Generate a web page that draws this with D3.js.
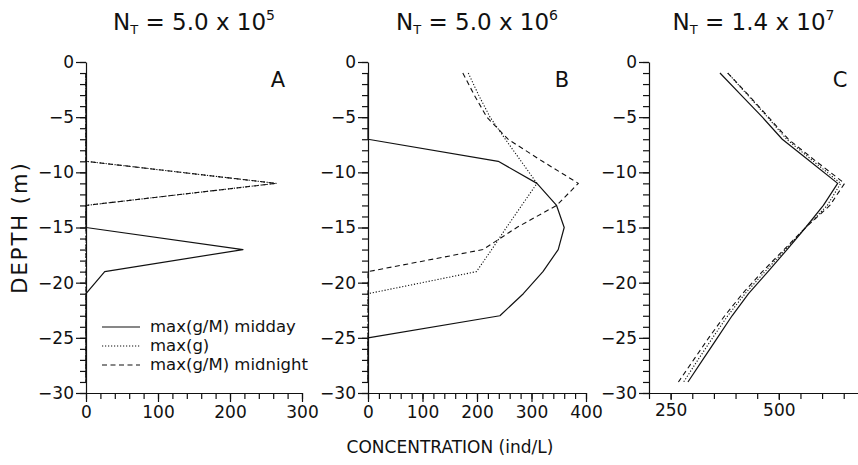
<!DOCTYPE html>
<html>
<head>
<meta charset="utf-8">
<script src="https://cdn.jsdelivr.net/npm/d3@7"></script>
<style>
  html, body { margin: 0; padding: 0; background: #fff; }
  svg { display: block; font-family: "DejaVu Sans", sans-serif; }
</style>
</head>
<body>
<svg id="chart" width="858" height="465"></svg>
<script>
// ---- data (depth in m, concentration in ind/L) ----
const depth = [-1, -3, -5, -7, -9, -11, -13, -15, -17, -19, -21, -23, -25, -27, -29];

const aMidday   = [0, 0, 0, 0, 0, 0, 0, 0, 218, 26, 0, 0, 0, 0, 0];
const aMaxG     = [0, 0, 0, 0, 0, 264, 0, 0, 0, 0, 0, 0, 0, 0, 0];
const aMidnight = [0, 0, 0, 0, 0, 264, 0, 0, 0, 0, 0, 0, 0, 0, 0];

const bMidday   = [0, 0, 0, 0, 239, 310, 346, 360, 349, 321, 285, 242, 0, 0, 0];
const bMaxG     = [184, 203, 224, 252, 281, 310, 282, 254, 227, 199, 0, 0, 0, 0, 0];
const bMidnight = [174, 195, 218, 257, 320, 386, 346, 273, 211, 0, 0, 0, 0, 0, 0];

const cMidday   = [364, 413, 462, 508, 572, 636, 603, 562, 519, 475, 430, 392, 358, 324, 290];
const cMaxG     = [382, 428, 474, 518, 580, 643, 612, 562, 515, 468, 422, 382, 347, 313, 280];
const cMidnight = [382, 430, 476, 522, 586, 652, 618, 562, 512, 462, 416, 375, 338, 303, 268];

const titleMantissa = ["5.0", "5.0", "1.4"];
const titleExponent = ["5", "6", "7"];
const panelLetters = ["A", "B", "C"];
const yMajorTicks = [0, -5, -10, -15, -20, -25, -30];
const xLabelTicksA = [0, 100, 200, 300];
const xLabelTicksB = [0, 100, 200, 300, 400];
const xLabelTicksC = [250, 500];
const legendLabels = ["max(g/M) midday", "max(g)", "max(g/M) midnight"];

// ---- layout ----
const svg = d3.select("#chart");
const ink = "#111";
const y = d3.scaleLinear().domain([0, -30]).range([62, 393]);

const panels = [
  { x: d3.scaleLinear().domain([0, 300]).range([86, 302]),
    series: [aMidday, aMaxG, aMidnight],
    minor: d3.range(0, 301, 20), major: xLabelTicksA },
  { x: d3.scaleLinear().domain([0, 400]).range([368, 586]),
    series: [bMidday, bMaxG, bMidnight],
    minor: d3.range(0, 401, 20), major: xLabelTicksB },
  { x: d3.scaleLinear().domain([200, 683]).range([649, 858]),
    series: [cMidday, cMaxG, cMidnight],
    minor: d3.range(200, 681, 50), major: xLabelTicksC }
];

const styles = [
  { dash: null, w: 1.2 },
  { dash: "1.2,1.8", w: 1.1 },
  { dash: "5,3.5", w: 1.1 }
];

panels.forEach((p, i) => {
  const g = svg.append("g");
  const x = p.x;
  const x0 = x.range()[0];

  // y axis: minor ticks
  g.append("g").attr("transform", `translate(${x0},0)`)
    .call(d3.axisLeft(y).tickValues(d3.range(0, -31, -1)).tickSize(6).tickSizeOuter(0).tickFormat(""))
    .call(s => s.selectAll("line,path").attr("stroke", ink).attr("stroke-width", 1.2));
  // y axis: major ticks with labels
  g.append("g").attr("transform", `translate(${x0},0)`)
    .call(d3.axisLeft(y).tickValues(yMajorTicks).tickSize(10).tickSizeOuter(0).tickPadding(2))
    .call(s => s.select("path").remove())
    .call(s => s.selectAll("line").attr("stroke", ink).attr("stroke-width", 1.2))
    .call(s => s.selectAll("text").attr("font-size", 17).attr("fill", ink)
      .attr("font-family", "DejaVu Sans, sans-serif"));

  // x axis: minor ticks
  g.append("g").attr("transform", `translate(0,${y(-30)})`)
    .call(d3.axisBottom(x).tickValues(p.minor).tickSize(6).tickSizeOuter(0).tickFormat(""))
    .call(s => s.selectAll("line,path").attr("stroke", ink).attr("stroke-width", 1.2));
  // x axis: labelled ticks
  g.append("g").attr("transform", `translate(0,${y(-30)})`)
    .call(d3.axisBottom(x).tickValues(p.major).tickSize(i === 2 ? 7 : 9).tickSizeOuter(0).tickPadding(4))
    .call(s => s.select("path").remove())
    .call(s => s.selectAll("line").attr("stroke", ink).attr("stroke-width", 1.2))
    .call(s => s.selectAll("text").attr("font-size", 17).attr("fill", ink)
      .attr("font-family", "DejaVu Sans, sans-serif"));

  // curves
  p.series.forEach((vals, k) => {
    const line = d3.line().x((d, j) => x(d)).y((d, j) => y(depth[j]));
    g.append("path").datum(vals)
      .attr("d", line)
      .attr("fill", "none")
      .attr("stroke", ink)
      .attr("stroke-width", styles[k].w)
      .attr("stroke-dasharray", styles[k].dash)
      .attr("stroke-linejoin", "round");
  });

  // panel letter
  g.append("text")
    .attr("x", x.range()[1] - (i === 2 ? 18 : 24))
    .attr("y", 87)
    .attr("text-anchor", "middle")
    .attr("font-size", 21)
    .attr("fill", ink)
    .text(panelLetters[i]);

  // title
  const cx = (x.range()[0] + x.range()[1]) / 2;
  const t = svg.append("text")
    .attr("x", cx).attr("y", 30)
    .attr("text-anchor", "middle")
    .attr("font-size", 23)
    .attr("fill", ink);
  t.append("tspan").text("N");
  t.append("tspan").attr("font-size", 13).attr("dy", 4).text("T");
  t.append("tspan").attr("dy", -4).text(" = " + titleMantissa[i] + " x 10");
  t.append("tspan").attr("font-size", 14).attr("dy", -10).text(titleExponent[i]);
});

// legend (panel A)
const legendY = [327, 346, 365];
legendLabels.forEach((lab, k) => {
  svg.append("line")
    .attr("x1", 102).attr("x2", 140)
    .attr("y1", legendY[k]).attr("y2", legendY[k])
    .attr("stroke", ink)
    .attr("stroke-width", styles[k].w)
    .attr("stroke-dasharray", styles[k].dash);
  svg.append("text")
    .attr("x", 150).attr("y", legendY[k])
    .attr("dy", "0.32em")
    .attr("font-size", 16.5)
    .attr("fill", ink)
    .text(lab);
});

// axis titles
svg.append("text")
  .attr("transform", `translate(27,${(y(0) + y(-30)) / 2}) rotate(-90)`)
  .attr("text-anchor", "middle")
  .attr("font-size", 21)
  .attr("letter-spacing", 2)
  .attr("fill", ink)
  .text("DEPTH (m)");

svg.append("text")
  .attr("x", 450).attr("y", 453)
  .attr("text-anchor", "middle")
  .attr("font-size", 17)
  .attr("fill", ink)
  .text("CONCENTRATION (ind/L)");
</script>
</body>
</html>
